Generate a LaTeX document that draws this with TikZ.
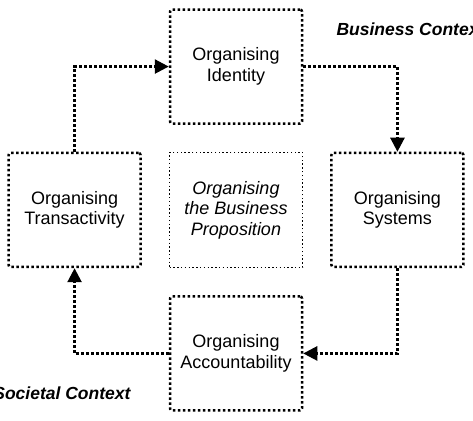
\documentclass[tikz,border=0pt]{standalone}
\usepackage{fontspec}
\setmainfont{Liberation Sans}
\usetikzlibrary{arrows.meta,positioning}
\tikzset{
  doboz/.style={draw,line width=2.5pt,dash pattern=on 2.5pt off 2.5pt,rounded corners=2pt,
    minimum width=132pt,minimum height=114pt,align=center,font=\fontsize{18}{20.5}\selectfont},
  kozep/.style={draw,line width=1.4pt,dash pattern=on 1.4pt off 2.4pt,
    minimum width=133pt,minimum height=115pt,align=center,font=\fontsize{18}{20.5}\selectfont\itshape},
  folyam/.style={line width=2.5pt,dash pattern=on 2.5pt off 2.5pt,-{Triangle[length=14pt,width=14pt]}},
  kornyezet/.style={font=\fontsize{17.5}{20}\selectfont\bfseries\itshape},
}
\begin{document}
\begin{tikzpicture}[x=1pt,y=1pt,node distance=27pt]
  \useasboundingbox (0,0) rectangle (473,420);
  \node[kozep] (prop) at (236,210) {Organising\\the Business\\Proposition};
  \node[doboz] (ident) [above=of prop] {Organising\\Identity};
  \node[doboz] (trans) [left=of prop] {Organising\\Transactivity};
  \node[doboz] (sys) [right=of prop] {Organising\\Systems};
  \node[doboz] (acct) [below=of prop] {Organising\\Accountability};
  \draw[folyam] (trans.north) |- (ident.west);
  \draw[folyam] (ident.east) -| (sys.north);
  \draw[folyam] (sys.south) |- (acct.east);
  \draw[folyam] (acct.west) -| (trans.south);
  \node[kornyezet,anchor=base west] (biz) at (333,384) {Business Context};
  \node[kornyezet,anchor=base east] (soc) at (134,21) {Societal Context};
\end{tikzpicture}
\end{document}
